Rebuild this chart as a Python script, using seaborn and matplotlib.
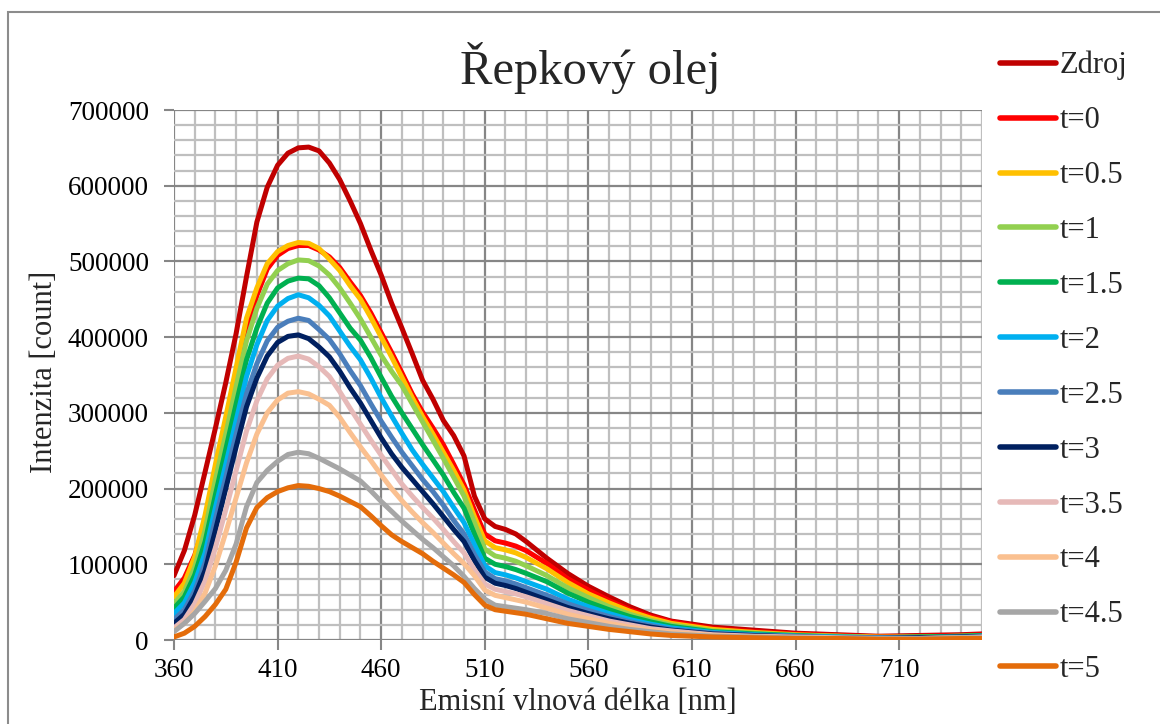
import numpy as np
import pandas as pd
import matplotlib
matplotlib.use("Agg")
import matplotlib.pyplot as plt
from matplotlib.patches import Rectangle
import seaborn as sns

wavelength = [360, 365, 370, 375, 380, 385, 390, 395, 400, 405, 410, 415, 420, 425, 430,
              435, 440, 445, 450, 455, 460, 465, 470, 475, 480, 485, 490, 495, 500, 505,
              510, 515, 520, 525, 530, 540, 550, 560, 570, 580, 590, 600, 620, 640, 660,
              680, 700, 720, 740, 750]

# values in thousands of counts
zdroj = [85, 118, 165, 222, 280, 340, 405, 480, 552, 598, 627, 643, 650, 651, 646,
         630, 608, 580, 550, 515, 482, 445, 412, 378, 343, 318, 290, 270, 243, 190,
         160, 150, 146, 140, 130, 108, 88, 71, 57, 44, 33, 25, 17, 13, 9,
         7, 5, 6, 7, 8]
t0 = [64, 82, 112, 155, 215, 275, 340, 405, 455, 490, 508, 517, 521, 521, 515,
      506, 492, 473, 455, 432, 406, 380, 353, 325, 301, 280, 258, 232, 205, 172,
      140, 131, 128, 124, 118, 101, 81, 66, 52, 40, 31, 24, 15, 11, 8,
      6, 4, 5, 6, 7]
t05 = [57, 75, 110, 165, 232, 295, 360, 425, 465, 497, 513, 521, 525, 524, 517,
       503, 488, 468, 450, 426, 400, 374, 347, 320, 295, 272, 248, 224, 198, 163,
       131, 122, 119, 115, 109, 94, 76, 61, 49, 38, 29, 22, 14, 10, 7,
       5, 4, 4, 5, 6]
t1 = [48, 64, 96, 145, 212, 272, 335, 395, 438, 470, 488, 497, 502, 501, 494,
      482, 465, 445, 424, 400, 376, 355, 336, 312, 288, 264, 240, 215, 190, 155,
      120, 111, 108, 104, 98, 85, 69, 56, 44, 34, 26, 20, 12, 9, 6,
      5, 3, 4, 5, 6]
t15 = [42, 57, 86, 130, 192, 252, 312, 370, 412, 445, 465, 474, 478, 477, 468,
       452, 432, 412, 396, 373, 347, 322, 300, 279, 258, 238, 218, 195, 174, 140,
       108, 100, 97, 93, 88, 77, 62, 50, 40, 31, 24, 18, 11, 8, 6,
       4, 3, 4, 5, 6]
t2 = [35, 49, 76, 115, 175, 232, 290, 348, 390, 422, 441, 451, 456, 452, 442,
      428, 408, 388, 370, 346, 320, 296, 273, 251, 232, 214, 196, 175, 155, 126,
      98, 89, 86, 82, 77, 67, 54, 44, 35, 27, 21, 16, 10, 7, 5,
      4, 3, 3, 4, 5]
t25 = [27, 40, 65, 102, 160, 215, 272, 325, 365, 395, 413, 421, 425, 422, 410,
       397, 378, 356, 336, 312, 289, 268, 248, 230, 212, 196, 178, 158, 140, 113,
       90, 81, 78, 74, 69, 59, 48, 39, 31, 24, 19, 14, 9, 6, 5,
       3, 3, 3, 4, 5]
t3 = [22, 34, 58, 92, 145, 200, 255, 308, 346, 375, 393, 401, 403, 398, 387,
      374, 355, 333, 313, 290, 267, 246, 228, 212, 196, 180, 163, 146, 130, 105,
      83, 75, 72, 68, 63, 53, 43, 35, 28, 22, 17, 13, 8, 6, 4,
      3, 2, 3, 4, 4]
t35 = [16, 27, 48, 78, 122, 172, 224, 276, 316, 345, 363, 372, 375, 371, 361,
       348, 328, 306, 285, 264, 244, 225, 206, 190, 175, 161, 146, 130, 115, 93,
       74, 67, 64, 61, 57, 48, 39, 32, 25, 20, 15, 12, 7, 5, 4,
       3, 2, 2, 3, 4]
t4 = [13, 22, 38, 62, 98, 142, 188, 234, 272, 300, 317, 326, 328, 325, 318,
      310, 294, 274, 255, 237, 218, 200, 184, 169, 155, 142, 128, 114, 101, 85,
      66, 59, 56, 53, 50, 42, 34, 28, 22, 17, 13, 10, 6, 4, 3,
      2, 2, 2, 3, 3]
t45 = [11, 22, 35, 51, 68, 92, 127, 176, 208, 224, 236, 245, 248, 246, 240,
       233, 226, 218, 210, 197, 183, 170, 157, 145, 133, 122, 110, 98, 84, 68,
       54, 46, 44, 42, 40, 35, 28, 23, 18, 14, 11, 8, 5, 4, 3,
       2, 2, 2, 3, 3]
t5 = [4, 9, 18, 31, 47, 67, 103, 148, 175, 188, 196, 201, 204, 203, 200,
      196, 190, 183, 176, 164, 151, 139, 130, 122, 114, 104, 95, 86, 76, 60,
      46, 40, 38, 36, 34, 28, 22, 18, 14, 11, 8, 6, 4, 3, 2,
      2, 1, 1, 2, 2]

series_names = ["Zdroj", "t=0", "t=0.5", "t=1", "t=1.5", "t=2", "t=2.5", "t=3",
                "t=3.5", "t=4", "t=4.5", "t=5"]
series_values = [zdroj, t0, t05, t1, t15, t2, t25, t3, t35, t4, t45, t5]
colors = ["#C00000", "#FF0000", "#FFC000", "#92D050", "#00B050", "#00B0F0",
          "#4A7EBB", "#002060", "#E6B9B8", "#FAC090", "#A6A6A6", "#E46C0A"]

x_major = [360, 410, 460, 510, 560, 610, 660, 710]
y_major = [0, 100000, 200000, 300000, 400000, 500000, 600000, 700000]

rows = []
for name, vals in zip(series_names, series_values):
    for w, v in zip(wavelength, vals):
        rows.append({"wl": w, "val": v * 1000, "series": name})
df = pd.DataFrame(rows)

sns.set_style("white")
plt.rcParams["font.family"] = ["Liberation Serif", "DejaVu Serif"]

fig = plt.figure(figsize=(11.6, 7.24), dpi=100)
ax = fig.add_axes([174 / 1160, 84 / 724, (982 - 174) / 1160, (640 - 110) / 724])

sns.lineplot(data=df, x="wl", y="val", hue="series", hue_order=series_names,
             palette=dict(zip(series_names, colors)), estimator=None, sort=False,
             linewidth=3.6, ax=ax, legend=True, solid_capstyle="round",
             solid_joinstyle="round")

ax.set_xlim(360, 750)
ax.set_ylim(0, 700000)
ax.set_xticks(x_major)
ax.set_xticks(np.arange(360, 751, 10), minor=True)
ax.set_yticks(y_major)
ax.set_yticks(np.arange(0, 700001, 20000), minor=True)
ax.set_xticklabels([str(v) for v in x_major])
ax.set_yticklabels([str(v) for v in y_major])

ax.grid(which="minor", color="#BFBFBF", linewidth=1.6, zorder=0)
ax.grid(which="major", color="#868686", linewidth=1.6, zorder=0)
ax.set_axisbelow(True)
for s in ax.spines.values():
    s.set_visible(False)
ax.tick_params(which="major", direction="out", length=7, width=1.5, color="#868686",
               labelsize=19.5, labelcolor="black", left=True, bottom=True)
ax.tick_params(axis="y", pad=11)
ax.tick_params(axis="x", pad=6)
ax.tick_params(which="minor", length=0)

ax.set_xlabel("")
ax.set_ylabel("")
fig.text(578 / 1160, 1 - 703 / 724, "Emisní vlnová délka [nm]", fontsize=22,
         ha="center", va="center")
fig.text(45 / 1160, 1 - 372 / 724, "Intenzita [count]", fontsize=22,
         ha="center", va="center", rotation=90)
fig.text(590 / 1160, 1 - 68 / 724, "Řepkový olej", fontsize=35,
         ha="center", va="center")

handles, labels = ax.get_legend_handles_labels()
leg = ax.legend(handles, labels, loc="upper left",
                bbox_to_anchor=(1000 / 1160, 1 - 51 / 724), bbox_transform=fig.transFigure,
                frameon=False, fontsize=22, handlelength=1.83, handletextpad=0.13,
                labelspacing=0.847, borderaxespad=0, borderpad=0)
for line in leg.get_lines():
    line.set_linewidth(4)
    line.set_solid_capstyle("round")

fig.add_artist(Rectangle((8 / 1160, -0.05), 1.2, 1 - 12 / 724 + 0.05,
                         transform=fig.transFigure, fill=False,
                         edgecolor="#8C8C8C", linewidth=1.5))

fig.savefig("out.png", dpi=100)
